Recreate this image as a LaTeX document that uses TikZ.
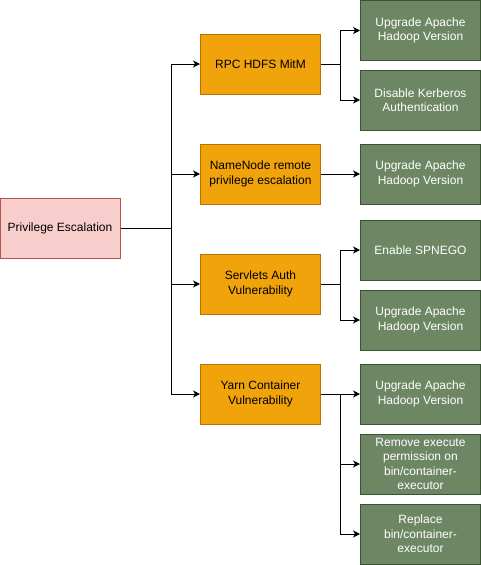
\documentclass[tikz,border=0pt]{standalone}
\usepackage{fontspec}
\setmainfont{Liberation Sans}
\usetikzlibrary{arrows.meta}
\definecolor{rootfill}{HTML}{F8CECC}
\definecolor{rootline}{HTML}{B85450}
\definecolor{orfill}{HTML}{F0A30A}
\definecolor{orline}{HTML}{BD7000}
\definecolor{grfill}{HTML}{6D8764}
\definecolor{grline}{HTML}{3A5431}
\tikzset{
  box/.style={draw, line width=1pt, minimum width=120pt, minimum height=60pt, inner sep=0pt, align=center, font=\fontsize{12}{14.5}\selectfont},
  rootbox/.style={box, fill=rootfill, draw=rootline},
  attack/.style={box, fill=orfill, draw=orline, text=black},
  fix/.style={box, fill=grfill, draw=grline, text=white},
  arr/.style={draw=black, line width=1pt, -{Stealth[length=7pt,width=7pt,inset=2pt]}},
}
\begin{document}
\begin{tikzpicture}[x=1pt,y=-1pt]
\useasboundingbox (0,0) rectangle (481,565);
\node[rootbox] (root) at (60,228) {Privilege Escalation};
\node[attack] (a1) at (260.5,64) {RPC HDFS MitM};
\node[attack] (a2) at (260.5,174) {NameNode remote\\privilege escalation};
\node[attack] (a3) at (260.5,284) {Servlets Auth\\Vulnerability};
\node[attack] (a4) at (260.5,394) {Yarn Container\\Vulnerability};
\node[fix] (f1) at (420.5,30.5) {Upgrade Apache\\Hadoop Version};
\node[fix] (f2) at (420.5,100) {Disable Kerberos\\Authentication};
\node[fix] (f3) at (420.5,174) {Upgrade Apache\\Hadoop Version};
\node[fix] (f4) at (420.5,250) {Enable SPNEGO};
\node[fix] (f5) at (420.5,320) {Upgrade Apache\\Hadoop Version};
\node[fix] (f6) at (420.5,394) {Upgrade Apache\\Hadoop Version};
\node[fix] (f7) at (420.5,464) {Remove execute\\permission on\\bin/container-\\executor};
\node[fix] (f8) at (420.5,534) {Replace\\bin/container-\\executor};
\coordinate (t) at (171,228);
\coordinate (b1) at (340,64);
\coordinate (b3) at (340,284);
\coordinate (b4) at (340,394);
\draw[arr] (root.east) -- (t) |- (a1.west);
\draw[arr] (root.east) -- (t) |- (a2.west);
\draw[arr] (root.east) -- (t) |- (a3.west);
\draw[arr] (root.east) -- (t) |- (a4.west);
\draw[arr] (a1.east) -- (b1) |- (f1.west);
\draw[arr] (a1.east) -- (b1) |- (f2.west);
\draw[arr] (a2.east) -- (f3.west);
\draw[arr] (a3.east) -- (b3) |- (f4.west);
\draw[arr] (a3.east) -- (b3) |- (f5.west);
\draw[arr] (a4.east) -- (f6.west);
\draw[arr] (a4.east) -- (b4) |- (f7.west);
\draw[arr] (a4.east) -- (b4) |- (f8.west);
\end{tikzpicture}
\end{document}
